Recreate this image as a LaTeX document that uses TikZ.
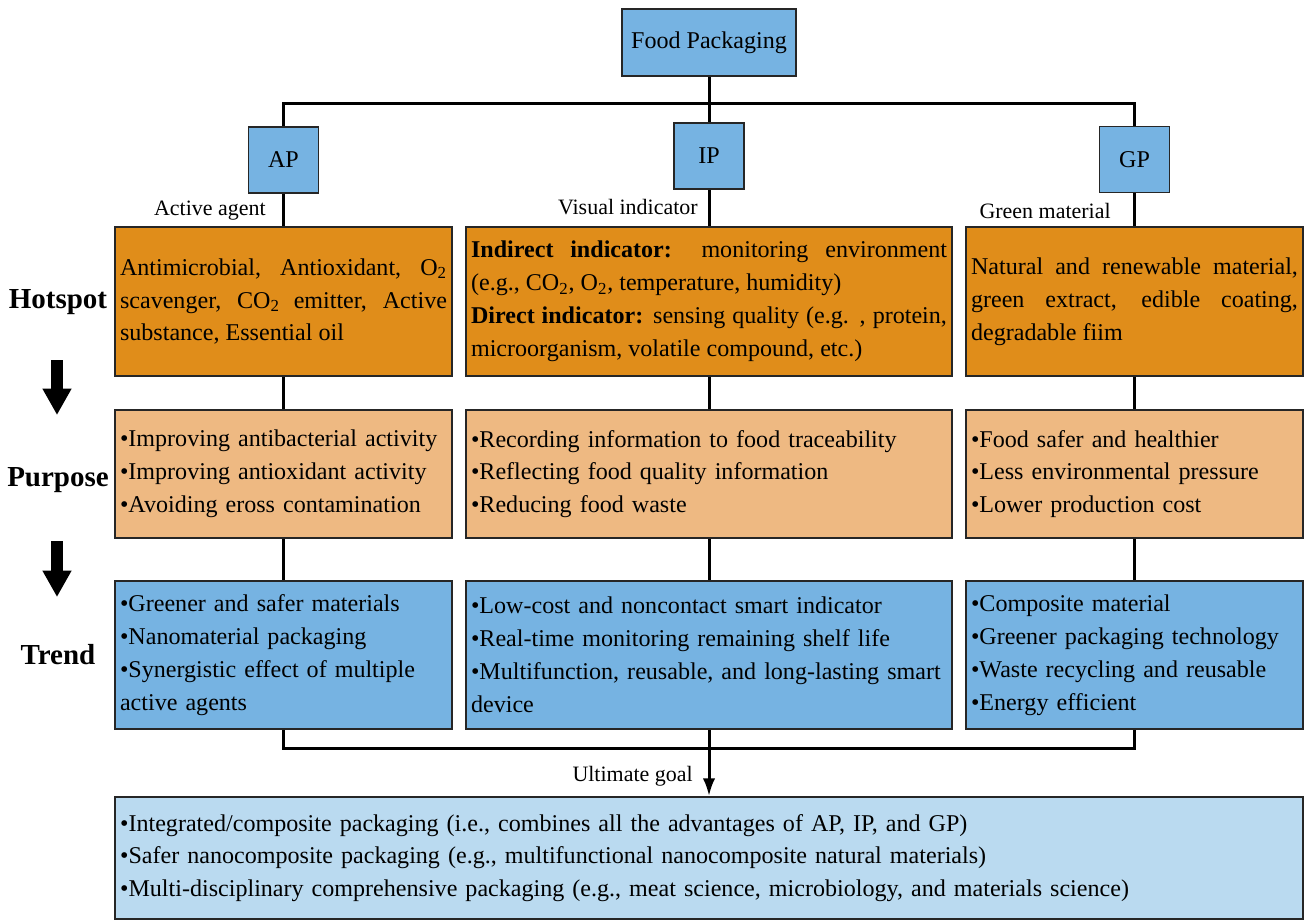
\documentclass[tikz,border=0pt]{standalone}
\usepackage{fontspec}
\setmainfont{Liberation Serif}
\usetikzlibrary{arrows.meta}

\definecolor{pkblue}{RGB}{118,179,226}
\definecolor{hotorange}{RGB}{224,141,26}
\definecolor{purpeach}{RGB}{238,185,130}
\definecolor{goalblue}{RGB}{186,218,240}

\tikzset{
  pbox/.style={draw=black!85, line width=1.1pt, inner xsep=0.1cm, inner ysep=0pt},
  headbox/.style={pbox, fill=pkblue, minimum width=1.4cm, minimum height=1.32cm},
  hotbox/.style={pbox, fill=hotorange, align=justify, minimum height=2.98cm},
  purbox/.style={pbox, fill=purpeach, align=left, minimum height=2.56cm},
  trendbox/.style={pbox, fill=pkblue, align=left, minimum height=2.96cm},
  goalbox/.style={pbox, fill=goalblue, align=left, minimum height=2.44cm},
  rowlabel/.style={font=\bfseries\fontsize{16.5}{20}\selectfont},
  sublabel/.style={font=\fontsize{12.5}{15}\selectfont, inner sep=0pt},
  link/.style={line width=1.7pt},
  bigarrow/.style={line width=6.8pt, -{Triangle[width=15.5pt, length=15pt]}}
}

\begin{document}
\begin{tikzpicture}[x=0.02cm, y=-0.02cm, font=\fontsize{13.7}{18.7}\selectfont]
    \useasboundingbox (0,0) rectangle (1309,921);
    % top of the tree
    \node[headbox, minimum width=3.48cm, minimum height=1.34cm] (FP) at (709,42.5) {Food Packaging};
    \node[headbox] (AP) at (283.5,160) {AP};
    \node[headbox] (IP) at (709,156) {IP};
    \node[headbox] (GP) at (1134.5,159.5) {GP};
    \node[sublabel, anchor=east] (Lact) at (266,211) {Active agent};
    \node[sublabel, anchor=east] (Lvis) at (698,207) {Visual indicator};
    \node[sublabel, anchor=east] (Lgrn) at (1111,211) {Green material};
    % hotspot row
    \node[hotbox, text width=6.54cm] (hotA) at (283.5,301.5)
      {Antimicrobial, Antioxidant, O\textsubscript{2}\linebreak
       scavenger, CO\textsubscript{2} emitter, Active\linebreak
       substance, Essential oil};
    \node[hotbox, text width=9.52cm] (hotI) at (709,301.5)
      {\textbf{Indirect indicator:} monitoring environment\linebreak
       (e.g., CO\textsubscript{2}, O\textsubscript{2}, temperature, humidity)\\
       \textbf{Direct indicator:} sensing quality (e.g. , protein,\linebreak
       microorganism, volatile compound, etc.)};
    \node[hotbox, text width=6.54cm] (hotG) at (1134.5,301.5)
      {Natural and renewable material,\linebreak
       green extract, edible coating,\linebreak
       degradable fiim};
    % purpose row
    \node[purbox, text width=6.54cm] (purA) at (283.5,474)
      {•Improving antibacterial activity\\•Improving antioxidant activity\\•Avoiding eross contamination};
    \node[purbox, text width=9.52cm] (purI) at (709,474)
      {•Recording information to food traceability\\•Reflecting food quality information\\•Reducing food waste};
    \node[purbox, text width=6.54cm] (purG) at (1134.5,474)
      {•Food safer and healthier\\•Less environmental pressure\\•Lower production cost};
    % trend row
    \node[trendbox, text width=6.54cm] (trA) at (283.5,655)
      {•Greener and safer materials\\•Nanomaterial packaging\\•Synergistic effect of multiple\\active agents};
    \node[trendbox, text width=9.52cm] (trI) at (709,655)
      {•Low-cost and noncontact smart indicator\\•Real-time monitoring remaining shelf life\\•Multifunction, reusable, and long-lasting smart\\device};
    \node[trendbox, text width=6.54cm] (trG) at (1134.5,655)
      {•Composite material\\•Greener packaging technology\\•Waste recycling and reusable\\•Energy efficient};
    % goal
    \node[goalbox, text width=23.56cm] (goal) at (709,858)
      {•Integrated/composite packaging (i.e., combines all the advantages of AP, IP, and GP)\\
       •Safer nanocomposite packaging (e.g., multifunctional nanocomposite natural materials)\\
       •Multi-disciplinary comprehensive packaging (e.g., meat science, microbiology, and materials science)};
    \node[sublabel, anchor=east] (Lult) at (693,776) {Ultimate goal};
    % row labels on the left
    \node[rowlabel] (Lhot) at (58,302) {Hotspot};
    \node[rowlabel] (Lpur) at (58,480) {Purpose};
    \node[rowlabel] (Ltr) at (58,655) {Trend};
    \coordinate (A1s) at (57,360);
    \coordinate (A1e) at (57,415);
    \coordinate (A2s) at (57,541);
    \coordinate (A2e) at (57,597);
    \draw[bigarrow] (A1s) -- (A1e);
    \draw[bigarrow] (A2s) -- (A2e);
    % connectors
    \coordinate (topL) at (283.5,103);
    \coordinate (topR) at (1134.5,103);
    \coordinate (botL) at (283.5,748);
    \coordinate (botM) at (709,748);
    \coordinate (botR) at (1134.5,748);
    \draw[link] (FP.south) -- (IP.north);
    \draw[link] (AP.north) -- (topL) -- (topR) -- (GP.north);
    \path[link] (AP) edge (hotA);
    \path[link] (IP) edge (hotI);
    \path[link] (GP) edge (hotG);
    \path[link] (hotA) edge (purA);
    \path[link] (hotI) edge (purI);
    \path[link] (hotG) edge (purG);
    \path[link] (purA) edge (trA);
    \path[link] (purI) edge (trI);
    \path[link] (purG) edge (trG);
    \draw[link] (trA.south) -- (botL) -- (botR) -- (trG.south);
    \draw[link] (trI.south) -- (botM);
    \draw[link, -{Latex[length=10pt, width=7pt]}] (botM) -- (goal.north);
  \end{tikzpicture}
\end{document}
